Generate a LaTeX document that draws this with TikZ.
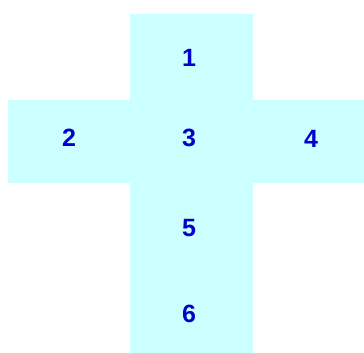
\documentclass[tikz,border=0pt]{standalone}
\usepackage{fontspec}
\setmainfont{Liberation Sans}
\usetikzlibrary{positioning}
\definecolor{FaceCyan}{RGB}{204, 255, 255}
\definecolor{DigitBlue}{RGB}{0, 0, 204}

\begin{document}
\begin{tikzpicture}[x=1pt, y=-1pt,
        facenum/.style={font=\bfseries, scale=2.5, text=DigitBlue, inner sep=0pt}]
    \useasboundingbox (0, 0) rectangle (364, 353);

    % Unfolded cube: vertical strip plus horizontal bar
    \fill[FaceCyan] (130, 14) rectangle (253, 353);
    \fill[FaceCyan] (8, 100) rectangle (364, 183);

    % Face numbers
    \node[facenum] (f1) at (189, 58) {1};
    \node[facenum] (f2) at (69, 138) {2};
    \node[facenum] (f3) at (189, 138) {3};
    \node[facenum] (f4) at (311, 139) {4};
    \node[facenum] (f5) at (189, 228) {5};
    \node[facenum] (f6) at (189, 314) {6};
\end{tikzpicture}
\end{document}
